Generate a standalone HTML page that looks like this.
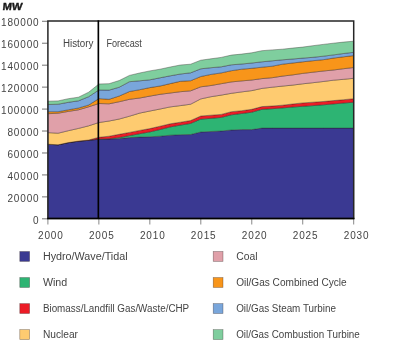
<!DOCTYPE html>
<html><head><meta charset="utf-8"><style>
html,body{margin:0;padding:0;background:#fff;width:400px;height:347px;overflow:hidden}
svg{display:block}
.t{font-family:"Liberation Sans",sans-serif;font-size:10px;fill:#444444;letter-spacing:0.85px}
.l{font-family:"Liberation Sans",sans-serif;font-size:10px;fill:#444444}
.b{font-family:"Liberation Sans",sans-serif;font-size:10px;font-weight:bold;fill:#1a1a1a;stroke:#1a1a1a;stroke-width:0.35px}
</style></head><body>
<svg width="400" height="347" viewBox="0 0 400 347">
<defs><filter id="gs" x="0" y="0" width="400" height="347" filterUnits="userSpaceOnUse"><feColorMatrix type="saturate" values="0"/></filter></defs>
<rect width="400" height="347" fill="#fff"/>
<polygon points="47.90,144.20 58.09,144.80 68.29,142.60 78.48,141.20 88.67,140.30 98.87,139.20 109.06,139.10 119.25,138.60 129.45,137.60 139.64,137.10 149.83,136.80 160.03,136.20 170.22,135.20 180.41,134.70 190.61,134.50 200.80,132.00 210.99,131.50 221.19,131.00 231.38,130.00 241.57,129.60 251.77,129.60 261.96,128.10 272.15,128.10 282.35,128.10 292.54,128.10 302.73,128.10 312.93,128.10 323.12,128.10 333.31,128.10 343.51,128.10 353.70,128.10 353.70,218.50 343.51,218.50 333.31,218.50 323.12,218.50 312.93,218.50 302.73,218.50 292.54,218.50 282.35,218.50 272.15,218.50 261.96,218.50 251.77,218.50 241.57,218.50 231.38,218.50 221.19,218.50 210.99,218.50 200.80,218.50 190.61,218.50 180.41,218.50 170.22,218.50 160.03,218.50 149.83,218.50 139.64,218.50 129.45,218.50 119.25,218.50 109.06,218.50 98.87,218.50 88.67,218.50 78.48,218.50 68.29,218.50 58.09,218.50 47.90,218.50" fill="#3a3992" stroke="rgba(40,30,30,0.62)" stroke-width="0.6" stroke-linejoin="round"/>
<polygon points="47.90,144.20 58.09,144.80 68.29,142.60 78.48,141.20 88.67,140.30 98.87,139.10 109.06,138.70 119.25,137.50 129.45,135.60 139.64,133.70 149.83,131.90 160.03,129.50 170.22,126.90 180.41,125.10 190.61,123.40 200.80,119.10 210.99,118.30 221.19,117.40 231.38,114.80 241.57,113.50 251.77,112.20 261.96,109.30 272.15,108.70 282.35,107.90 292.54,107.00 302.73,106.30 312.93,105.60 323.12,104.80 333.31,103.90 343.51,103.00 353.70,102.20 353.70,128.10 343.51,128.10 333.31,128.10 323.12,128.10 312.93,128.10 302.73,128.10 292.54,128.10 282.35,128.10 272.15,128.10 261.96,128.10 251.77,129.60 241.57,129.60 231.38,130.00 221.19,131.00 210.99,131.50 200.80,132.00 190.61,134.50 180.41,134.70 170.22,135.20 160.03,136.20 149.83,136.80 139.64,137.10 129.45,137.60 119.25,138.60 109.06,139.10 98.87,139.20 88.67,140.30 78.48,141.20 68.29,142.60 58.09,144.80 47.90,144.20" fill="#2db473" stroke="rgba(40,30,30,0.62)" stroke-width="0.6" stroke-linejoin="round"/>
<polygon points="47.90,144.20 58.09,144.80 68.29,142.60 78.48,141.10 88.67,140.00 98.87,137.30 109.06,136.20 119.25,134.30 129.45,132.40 139.64,130.40 149.83,128.60 160.03,126.20 170.22,123.80 180.41,122.20 190.61,120.50 200.80,116.00 210.99,115.20 221.19,114.40 231.38,111.70 241.57,110.70 251.77,109.30 261.96,106.60 272.15,106.00 282.35,105.20 292.54,104.00 302.73,102.90 312.93,102.20 323.12,101.50 333.31,100.60 343.51,99.70 353.70,98.70 353.70,102.20 343.51,103.00 333.31,103.90 323.12,104.80 312.93,105.60 302.73,106.30 292.54,107.00 282.35,107.90 272.15,108.70 261.96,109.30 251.77,112.20 241.57,113.50 231.38,114.80 221.19,117.40 210.99,118.30 200.80,119.10 190.61,123.40 180.41,125.10 170.22,126.90 160.03,129.50 149.83,131.90 139.64,133.70 129.45,135.60 119.25,137.50 109.06,138.70 98.87,139.10 88.67,140.30 78.48,141.20 68.29,142.60 58.09,144.80 47.90,144.20" fill="#ec1c26" stroke="rgba(40,30,30,0.62)" stroke-width="0.6" stroke-linejoin="round"/>
<polygon points="47.90,132.60 58.09,133.20 68.29,130.70 78.48,128.40 88.67,125.80 98.87,122.50 109.06,121.00 119.25,119.00 129.45,116.20 139.64,113.10 149.83,111.00 160.03,109.00 170.22,106.90 180.41,105.60 190.61,104.20 200.80,98.90 210.99,96.70 221.19,95.10 231.38,93.30 241.57,91.90 251.77,90.60 261.96,88.40 272.15,87.20 282.35,86.10 292.54,85.10 302.73,83.80 312.93,82.70 323.12,81.50 333.31,80.20 343.51,79.30 353.70,78.30 353.70,98.70 343.51,99.70 333.31,100.60 323.12,101.50 312.93,102.20 302.73,102.90 292.54,104.00 282.35,105.20 272.15,106.00 261.96,106.60 251.77,109.30 241.57,110.70 231.38,111.70 221.19,114.40 210.99,115.20 200.80,116.00 190.61,120.50 180.41,122.20 170.22,123.80 160.03,126.20 149.83,128.60 139.64,130.40 129.45,132.40 119.25,134.30 109.06,136.20 98.87,137.30 88.67,140.00 78.48,141.10 68.29,142.60 58.09,144.80 47.90,144.20" fill="#fecb70" stroke="rgba(40,30,30,0.62)" stroke-width="0.6" stroke-linejoin="round"/>
<polygon points="47.90,113.70 58.09,113.20 68.29,111.40 78.48,109.80 88.67,106.80 98.87,103.50 109.06,103.80 119.25,101.70 129.45,99.30 139.64,98.00 149.83,96.10 160.03,94.30 170.22,93.00 180.41,91.70 190.61,90.80 200.80,86.80 210.99,85.50 221.19,83.70 231.38,81.90 241.57,80.90 251.77,80.00 261.96,78.60 272.15,77.70 282.35,76.10 292.54,74.90 302.73,73.40 312.93,72.20 323.12,71.00 333.31,70.00 343.51,68.70 353.70,67.50 353.70,78.30 343.51,79.30 333.31,80.20 323.12,81.50 312.93,82.70 302.73,83.80 292.54,85.10 282.35,86.10 272.15,87.20 261.96,88.40 251.77,90.60 241.57,91.90 231.38,93.30 221.19,95.10 210.99,96.70 200.80,98.90 190.61,104.20 180.41,105.60 170.22,106.90 160.03,109.00 149.83,111.00 139.64,113.10 129.45,116.20 119.25,119.00 109.06,121.00 98.87,122.50 88.67,125.80 78.48,128.40 68.29,130.70 58.09,133.20 47.90,132.60" fill="#e0a0a9" stroke="rgba(40,30,30,0.62)" stroke-width="0.6" stroke-linejoin="round"/>
<polygon points="47.90,111.70 58.09,111.70 68.29,109.80 78.48,108.00 88.67,105.00 98.87,98.60 109.06,99.30 119.25,96.00 129.45,91.50 139.64,89.70 149.83,87.60 160.03,86.00 170.22,83.60 180.41,81.30 190.61,80.70 200.80,76.50 210.99,74.40 221.19,72.90 231.38,70.70 241.57,69.20 251.77,68.30 261.96,67.20 272.15,66.20 282.35,64.20 292.54,63.00 302.73,61.80 312.93,60.70 323.12,59.70 333.31,58.10 343.51,56.80 353.70,55.60 353.70,67.50 343.51,68.70 333.31,70.00 323.12,71.00 312.93,72.20 302.73,73.40 292.54,74.90 282.35,76.10 272.15,77.70 261.96,78.60 251.77,80.00 241.57,80.90 231.38,81.90 221.19,83.70 210.99,85.50 200.80,86.80 190.61,90.80 180.41,91.70 170.22,93.00 160.03,94.30 149.83,96.10 139.64,98.00 129.45,99.30 119.25,101.70 109.06,103.80 98.87,103.50 88.67,106.80 78.48,109.80 68.29,111.40 58.09,113.20 47.90,113.70" fill="#f8951a" stroke="rgba(40,30,30,0.62)" stroke-width="0.6" stroke-linejoin="round"/>
<polygon points="47.90,104.50 58.09,104.20 68.29,102.30 78.48,100.80 88.67,96.70 98.87,90.00 109.06,90.10 119.25,87.20 129.45,81.70 139.64,80.80 149.83,79.80 160.03,77.80 170.22,75.80 180.41,74.00 190.61,72.80 200.80,68.80 210.99,67.70 221.19,66.80 231.38,64.80 241.57,64.00 251.77,63.00 261.96,61.80 272.15,60.80 282.35,59.80 292.54,59.00 302.73,58.10 312.93,57.30 323.12,56.20 333.31,54.90 343.51,53.50 353.70,52.30 353.70,55.60 343.51,56.80 333.31,58.10 323.12,59.70 312.93,60.70 302.73,61.80 292.54,63.00 282.35,64.20 272.15,66.20 261.96,67.20 251.77,68.30 241.57,69.20 231.38,70.70 221.19,72.90 210.99,74.40 200.80,76.50 190.61,80.70 180.41,81.30 170.22,83.60 160.03,86.00 149.83,87.60 139.64,89.70 129.45,91.50 119.25,96.00 109.06,99.30 98.87,98.60 88.67,105.00 78.48,108.00 68.29,109.80 58.09,111.70 47.90,111.70" fill="#79a6db" stroke="rgba(40,30,30,0.62)" stroke-width="0.6" stroke-linejoin="round"/>
<polygon points="47.90,101.20 58.09,100.90 68.29,98.70 78.48,97.20 88.67,92.20 98.87,84.00 109.06,83.70 119.25,80.50 129.45,75.40 139.64,73.00 149.83,70.90 160.03,69.20 170.22,67.00 180.41,65.00 190.61,64.20 200.80,60.20 210.99,58.80 221.19,57.40 231.38,55.10 241.57,54.10 251.77,52.80 261.96,50.70 272.15,49.90 282.35,49.20 292.54,48.10 302.73,47.10 312.93,45.70 323.12,44.40 333.31,43.20 343.51,42.10 353.70,41.20 353.70,52.30 343.51,53.50 333.31,54.90 323.12,56.20 312.93,57.30 302.73,58.10 292.54,59.00 282.35,59.80 272.15,60.80 261.96,61.80 251.77,63.00 241.57,64.00 231.38,64.80 221.19,66.80 210.99,67.70 200.80,68.80 190.61,72.80 180.41,74.00 170.22,75.80 160.03,77.80 149.83,79.80 139.64,80.80 129.45,81.70 119.25,87.20 109.06,90.10 98.87,90.00 88.67,96.70 78.48,100.80 68.29,102.30 58.09,104.20 47.90,104.50" fill="#7fce9e" stroke="rgba(40,30,30,0.62)" stroke-width="0.6" stroke-linejoin="round"/>
<line x1="42" y1="218.80" x2="47.90" y2="218.80" stroke="#808080" stroke-width="1.1"/>
<line x1="42" y1="196.86" x2="47.90" y2="196.86" stroke="#808080" stroke-width="1.1"/>
<line x1="42" y1="174.91" x2="47.90" y2="174.91" stroke="#808080" stroke-width="1.1"/>
<line x1="42" y1="152.97" x2="47.90" y2="152.97" stroke="#808080" stroke-width="1.1"/>
<line x1="42" y1="131.02" x2="47.90" y2="131.02" stroke="#808080" stroke-width="1.1"/>
<line x1="42" y1="109.08" x2="47.90" y2="109.08" stroke="#808080" stroke-width="1.1"/>
<line x1="42" y1="87.13" x2="47.90" y2="87.13" stroke="#808080" stroke-width="1.1"/>
<line x1="42" y1="65.19" x2="47.90" y2="65.19" stroke="#808080" stroke-width="1.1"/>
<line x1="42" y1="43.24" x2="47.90" y2="43.24" stroke="#808080" stroke-width="1.1"/>
<line x1="42" y1="21.30" x2="47.90" y2="21.30" stroke="#808080" stroke-width="1.1"/>
<line x1="47.90" y1="218.50" x2="47.90" y2="224.5" stroke="#888" stroke-width="1"/>
<line x1="98.87" y1="218.50" x2="98.87" y2="224.5" stroke="#888" stroke-width="1"/>
<line x1="149.83" y1="218.50" x2="149.83" y2="224.5" stroke="#888" stroke-width="1"/>
<line x1="200.80" y1="218.50" x2="200.80" y2="224.5" stroke="#888" stroke-width="1"/>
<line x1="251.77" y1="218.50" x2="251.77" y2="224.5" stroke="#888" stroke-width="1"/>
<line x1="302.73" y1="218.50" x2="302.73" y2="224.5" stroke="#888" stroke-width="1"/>
<line x1="353.70" y1="218.50" x2="353.70" y2="224.5" stroke="#888" stroke-width="1"/>
<rect x="47.90" y="21.00" width="305.80" height="197.50" fill="none" stroke="#262626" stroke-width="1.5"/>
<line x1="47.20" y1="218.50" x2="354.40" y2="218.50" stroke="#000" stroke-width="1.5"/>
<line x1="98.35" y1="20.3" x2="98.35" y2="218.5" stroke="#000" stroke-width="1.65"/>
<rect x="19.80" y="251.50" width="9.8" height="9.9" fill="#3a3992" stroke="rgba(40,30,30,0.5)" stroke-width="0.6"/>
<rect x="19.80" y="277.55" width="9.8" height="9.9" fill="#2db473" stroke="rgba(40,30,30,0.5)" stroke-width="0.6"/>
<rect x="19.80" y="303.60" width="9.8" height="9.9" fill="#ec1c26" stroke="rgba(40,30,30,0.5)" stroke-width="0.6"/>
<rect x="19.80" y="329.65" width="9.8" height="9.9" fill="#fecb70" stroke="rgba(40,30,30,0.5)" stroke-width="0.6"/>
<rect x="213.20" y="251.50" width="9.8" height="9.9" fill="#e0a0a9" stroke="rgba(40,30,30,0.5)" stroke-width="0.6"/>
<rect x="213.20" y="277.55" width="9.8" height="9.9" fill="#f8951a" stroke="rgba(40,30,30,0.5)" stroke-width="0.6"/>
<rect x="213.20" y="303.60" width="9.8" height="9.9" fill="#79a6db" stroke="rgba(40,30,30,0.5)" stroke-width="0.6"/>
<rect x="213.20" y="329.65" width="9.8" height="9.9" fill="#7fce9e" stroke="rgba(40,30,30,0.5)" stroke-width="0.6"/>
<g filter="url(#gs)">
<text transform="translate(2.2,9.9) scale(1.12,1.02) skewX(-6)" class="b">MW</text>
<text x="39.5" y="223.50" text-anchor="end" class="t">0</text>
<text x="39.5" y="201.56" text-anchor="end" class="t">20000</text>
<text x="39.5" y="179.61" text-anchor="end" class="t">40000</text>
<text x="39.5" y="157.67" text-anchor="end" class="t">60000</text>
<text x="39.5" y="135.72" text-anchor="end" class="t">80000</text>
<text x="39.5" y="113.78" text-anchor="end" class="t">100000</text>
<text x="39.5" y="91.83" text-anchor="end" class="t">120000</text>
<text x="39.5" y="69.89" text-anchor="end" class="t">140000</text>
<text x="39.5" y="47.94" text-anchor="end" class="t">160000</text>
<text x="39.5" y="26.00" text-anchor="end" class="t">180000</text>
<text x="50.80" y="238.9" text-anchor="middle" class="t">2000</text>
<text x="101.77" y="238.9" text-anchor="middle" class="t">2005</text>
<text x="152.73" y="238.9" text-anchor="middle" class="t">2010</text>
<text x="203.70" y="238.9" text-anchor="middle" class="t">2015</text>
<text x="254.67" y="238.9" text-anchor="middle" class="t">2020</text>
<text x="305.63" y="238.9" text-anchor="middle" class="t">2025</text>
<text x="356.60" y="238.9" text-anchor="middle" class="t">2030</text>
<text x="63.0" y="46.6" class="l" textLength="30.4" lengthAdjust="spacingAndGlyphs">History</text>
<text x="106.4" y="46.6" class="l" textLength="35.4" lengthAdjust="spacingAndGlyphs">Forecast</text>
<text x="42.90" y="260.20" class="l" textLength="84.70" lengthAdjust="spacingAndGlyphs">Hydro/Wave/Tidal</text>
<text x="42.90" y="286.25" class="l" textLength="24.30" lengthAdjust="spacingAndGlyphs">Wind</text>
<text x="42.90" y="312.30" class="l" textLength="146.30" lengthAdjust="spacingAndGlyphs">Biomass/Landfill Gas/Waste/CHP</text>
<text x="42.90" y="338.35" class="l" textLength="35.10" lengthAdjust="spacingAndGlyphs">Nuclear</text>
<text x="236.20" y="260.20" class="l" textLength="21.30" lengthAdjust="spacingAndGlyphs">Coal</text>
<text x="236.20" y="286.25" class="l" textLength="110.45" lengthAdjust="spacingAndGlyphs">Oil/Gas Combined Cycle</text>
<text x="236.20" y="312.30" class="l" textLength="99.80" lengthAdjust="spacingAndGlyphs">Oil/Gas Steam Turbine</text>
<text x="236.20" y="338.35" class="l" textLength="123.60" lengthAdjust="spacingAndGlyphs">Oil/Gas Combustion Turbine</text>
</g>
</svg>
</body></html>
